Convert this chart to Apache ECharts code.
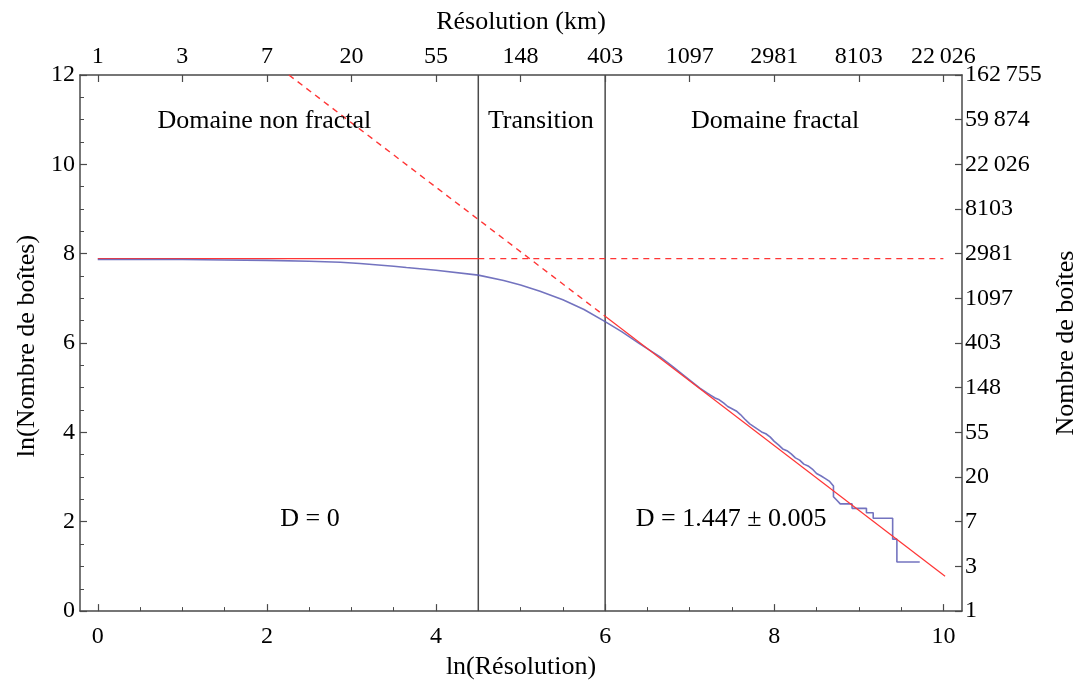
<!DOCTYPE html>
<html>
<head>
<meta charset="utf-8">
<script src="https://cdn.jsdelivr.net/npm/echarts@6/dist/echarts.min.js"></script>
<style>
html,body{margin:0;padding:0;background:#fff;}
#chart{width:1092px;height:685px;}
</style>
</head>
<body>
<div id="chart"></div>
<script>
// ---- data ----
const bottomTickValues = [0, 2, 4, 6, 8, 10];
const bottomMinorTicks = [0, 0.5, 1, 1.5, 2, 2.5, 3, 3.5, 4, 4.5, 5, 5.5, 6, 6.5, 7, 7.5, 8, 8.5, 9, 9.5, 10];
const topTickValues = [0, 1, 2, 3, 4, 5, 6, 7, 8, 9, 10];
const topTickLabels = ['1', '3', '7', '20', '55', '148', '403', '1097', '2981', '8103', '22\u2009026'];
const rightTickLabels = ['1', '3', '7', '20', '55', '148', '403', '1097', '2981', '8103', '22\u2009026', '59\u2009874', '162\u2009755'];

// measured curve: ln(Résolution) vs ln(Nombre de boîtes)
const curveX = [0, 0.5, 1, 1.5, 2, 2.5, 2.87, 3.1, 3.5, 3.65, 4, 4.5, 4.8, 5.0, 5.23, 5.5, 5.75, 6.0, 6.2, 6.41, 6.65,
  6.8, 6.9, 7.0, 7.12, 7.2, 7.25, 7.3, 7.35, 7.4, 7.45, 7.5, 7.55, 7.6, 7.65, 7.71, 7.78, 7.85, 7.9, 7.95,
  8.0, 8.05, 8.1, 8.15, 8.2, 8.25, 8.3, 8.35, 8.4, 8.45, 8.5, 8.55, 8.6, 8.65, 8.7, 8.7, 8.74, 8.78, 8.92, 8.92,
  9.09, 9.09, 9.17, 9.17, 9.4, 9.4, 9.45, 9.45, 9.72];
const curveY = [7.87, 7.87, 7.87, 7.86, 7.85, 7.83, 7.81, 7.78, 7.72, 7.69, 7.63, 7.52, 7.40, 7.30, 7.16, 6.97, 6.75, 6.48, 6.25, 5.98, 5.69,
  5.47, 5.32, 5.17, 4.99, 4.89, 4.83, 4.77, 4.73, 4.66, 4.58, 4.53, 4.48, 4.40, 4.30, 4.19, 4.10, 4.01, 3.97, 3.90,
  3.80, 3.72, 3.63, 3.59, 3.52, 3.43, 3.38, 3.29, 3.25, 3.18, 3.08, 3.03, 2.97, 2.91, 2.80, 2.56, 2.48, 2.40, 2.40, 2.30,
  2.30, 2.20, 2.20, 2.08, 2.08, 1.61, 1.61, 1.10, 1.10];

// D = 0 plateau (solid up to transition, dashed after)
const plateauSolidX = [0, 4.5];
const plateauDashX = [4.5, 10];
const plateauY = 7.89;
// fitted fractal line (dashed before x = 6, solid after)
const fitDashX = [2.26, 6];
const fitDashY = [12, 6.60];
const fitSolidX = [6, 10.02];
const fitSolidY = [6.60, 0.78];
// domain boundaries
const boundaryX = [4.5, 6];

const annotTexts = ['Domaine non fractal', 'Transition', 'Domaine fractal', 'D = 0', 'D = 1.447 \u00b1 0.005'];
const annotX = [1.97, 5.24, 8.01, 2.51, 7.49];
const annotY = [10.97, 10.97, 10.97, 2.05, 2.05];

// ---- chart ----
const FONT = '"Liberation Serif", "DejaVu Serif", serif';
const FS = 24;
const FN = 26;
const AX = '#4a4a4a';
const RED = '#ff3535';

const pairs = (xs, ys) => xs.map((x, i) => [x, Array.isArray(ys) ? ys[i] : ys]);

const chart = echarts.init(document.getElementById('chart'));
const txt = {fontFamily: FONT, fontSize: FS, color: '#000'};
const ntxt = {fontFamily: FONT, fontSize: FN, color: '#000'};

const option = {
  animation: false,
  backgroundColor: '#fff',
  textStyle: {fontFamily: FONT},
  grid: {left: 80, top: 75, width: 882, height: 545, containLabel: false},
  xAxis: [
    {
      type: 'value', position: 'bottom', min: -0.21, max: 10.22,
      axisLine: {show: true, onZero: false, lineStyle: {color: AX, width: 1.5}},
      axisTick: {show: true, inside: true, length: 7, customValues: bottomTickValues, lineStyle: {color: AX, width: 1.2}},
      axisLabel: {show: true, customValues: bottomTickValues, margin: 14, ...txt},
      splitLine: {show: false},
      name: 'ln(Résolution)', nameLocation: 'middle', nameGap: 29,
      nameTextStyle: {...ntxt, verticalAlign: 'top'}
    },
    {
      type: 'value', position: 'bottom', min: -0.21, max: 10.22,
      axisLine: {show: false, onZero: false},
      axisTick: {show: true, inside: true, length: 4, customValues: bottomMinorTicks, lineStyle: {color: AX, width: 1}},
      axisLabel: {show: false},
      splitLine: {show: false}
    },
    {
      type: 'value', position: 'top', min: -0.21, max: 10.22,
      axisLine: {show: true, onZero: false, lineStyle: {color: AX, width: 1.5}},
      axisTick: {show: true, inside: true, length: 7, customValues: topTickValues, lineStyle: {color: AX, width: 1.2}},
      axisLabel: {
        show: true, customValues: topTickValues, margin: 6, ...txt,
        formatter: v => topTickLabels[topTickValues.indexOf(Math.round(v))]
      },
      splitLine: {show: false},
      name: 'Résolution (km)', nameLocation: 'middle', nameGap: 40,
      nameTextStyle: {...ntxt, verticalAlign: 'bottom'}
    }
  ],
  yAxis: [
    {
      type: 'value', position: 'left', min: 0, max: 12, interval: 2,
      axisLine: {show: true, onZero: false, lineStyle: {color: AX, width: 1.5}},
      axisTick: {show: true, inside: true, length: 7, lineStyle: {color: AX, width: 1.2}},
      minorTick: {show: true, splitNumber: 4, length: 4, lineStyle: {color: AX, width: 1}},
      axisLabel: {show: true, margin: 5, ...txt},
      splitLine: {show: false},
      name: 'ln(Nombre de boîtes)', nameLocation: 'middle', nameGap: 28, nameRotate: 90,
      nameTextStyle: {...ntxt, verticalAlign: 'bottom', padding: [0, 6, 0, 0]}
    },
    {
      type: 'value', position: 'right', min: 0, max: 12, interval: 1,
      axisLine: {show: true, onZero: false, lineStyle: {color: AX, width: 1.5}},
      axisTick: {show: true, inside: true, length: 7, lineStyle: {color: AX, width: 1.2}},
      axisLabel: {show: true, margin: 3, ...txt, formatter: v => rightTickLabels[Math.round(v)]},
      splitLine: {show: false},
      name: 'Nombre de boîtes', nameLocation: 'middle', nameGap: 88, nameRotate: 90,
      nameTextStyle: {...ntxt, verticalAlign: 'top'}
    }
  ],
  series: [
    {
      type: 'line', name: 'boundary1', data: [[boundaryX[0], 0], [boundaryX[0], 12]],
      symbol: 'none', lineStyle: {color: AX, width: 1.5}, silent: true
    },
    {
      type: 'line', name: 'boundary2', data: [[boundaryX[1], 0], [boundaryX[1], 12]],
      symbol: 'none', lineStyle: {color: AX, width: 1.5}, silent: true
    },
    {
      type: 'line', name: 'plateau', data: pairs(plateauSolidX, plateauY),
      symbol: 'none', lineStyle: {color: RED, width: 1.2}
    },
    {
      type: 'line', name: 'plateauDash', data: pairs(plateauDashX, plateauY),
      symbol: 'none', lineStyle: {color: RED, width: 1.2, type: [6, 5]}
    },
    {
      type: 'line', name: 'curve', data: pairs(curveX, curveY),
      symbol: 'none', lineStyle: {color: '#5a5ab4', width: 1.6, opacity: 0.85}, z: 3
    },
    {
      type: 'line', name: 'fitDash', data: pairs(fitDashX, fitDashY),
      symbol: 'none', lineStyle: {color: RED, width: 1.4, type: [6, 5]}, z: 4
    },
    {
      type: 'line', name: 'fit', data: pairs(fitSolidX, fitSolidY),
      symbol: 'none', lineStyle: {color: RED, width: 1.2}, z: 4
    },
    {
      type: 'scatter', name: 'annotations', silent: true, z: 5,
      data: annotX.map((x, i) => [x, annotY[i], annotTexts[i]]),
      symbolSize: 0, itemStyle: {color: '#000', opacity: 1},
      label: {show: true, position: 'inside', formatter: p => p.data[2], ...ntxt, opacity: 1}
    }
  ]
};
chart.setOption(option);
</script>
</body>
</html>
